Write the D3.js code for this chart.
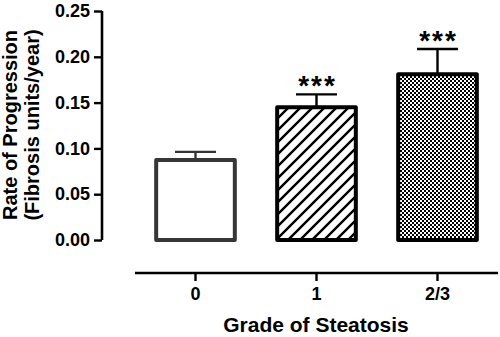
<!DOCTYPE html>
<html>
<head>
<meta charset="utf-8">
<script src="https://cdn.jsdelivr.net/npm/d3@7"></script>
<style>
  html, body { margin: 0; padding: 0; background: #fff; }
  svg { display: block; font-family: "Liberation Sans", Arial, sans-serif; font-weight: bold; }
</style>
</head>
<body>
<svg id="chart" width="500" height="337"></svg>
<script>
// ---- data ----
const categories = ["0", "1", "2/3"];
const means = [0.0873, 0.145, 0.181];
const errorTops = [0.0962, 0.159, 0.2085];
const significance = ["", "***", "***"];
const yTicks = [0.00, 0.05, 0.10, 0.15, 0.20, 0.25];
const yTitleLines = ["Rate of Progression", "(Fibrosis units/year)"];
const xTitle = "Grade of Steatosis";

const svg = d3.select("#chart");
const defs = svg.append("defs");

// hatch pattern
const hatch = defs.append("pattern")
  .attr("id", "hatch").attr("patternUnits", "userSpaceOnUse")
  .attr("width", 12).attr("height", 12);
hatch.append("rect").attr("width", 12).attr("height", 12).attr("fill", "#fff");
hatch.append("path")
  .attr("d", "M-3,3 L3,-3 M0,12 L12,0 M9,15 L15,9")
  .attr("stroke", "#000").attr("stroke-width", 2.4);

// checker pattern
const checker = defs.append("pattern")
  .attr("id", "checker").attr("patternUnits", "userSpaceOnUse")
  .attr("width", 4).attr("height", 4);
checker.append("rect").attr("width", 4).attr("height", 4).attr("fill", "#000");
checker.append("rect").attr("x", 0).attr("y", 0).attr("width", 2).attr("height", 2).attr("fill", "#fff");
checker.append("rect").attr("x", 2).attr("y", 2).attr("width", 2).attr("height", 2).attr("fill", "#fff");

const fills = ["#fff", "url(#hatch)", "url(#checker)"];
const strokes = ["#363636", "#000", "#000"];

const x = d3.scaleBand().domain(categories).range([135, 498])
  .paddingInner(0.35).paddingOuter(0.175);
const y = d3.scaleLinear().domain([0, 0.25]).range([240, 11]);

// y axis
const yAxis = svg.append("g").attr("transform", "translate(102,0)")
  .call(d3.axisLeft(y).tickValues(yTicks).tickFormat(d3.format(".2f")).tickSize(8).tickPadding(4));
yAxis.select(".domain").attr("stroke", "#000").attr("stroke-width", 2.6)
  .attr("d", `M0,${y(0.25)}V${y(0)}`);
yAxis.selectAll(".tick line").attr("stroke", "#000").attr("stroke-width", 2.4);
yAxis.selectAll(".tick text").attr("font-size", 18).attr("font-weight", "bold")
  .attr("fill", "#000").attr("font-family", "Liberation Sans, Arial, sans-serif");

// x axis
const xAxis = svg.append("g").attr("transform", "translate(0,273)")
  .call(d3.axisBottom(x).tickSize(8).tickPadding(6));
xAxis.select(".domain").attr("stroke", "#000").attr("stroke-width", 2.4)
  .attr("d", "M135,0H498");
xAxis.selectAll(".tick line").attr("stroke", "#000").attr("stroke-width", 2.4);
xAxis.selectAll(".tick text").attr("font-size", 18).attr("font-weight", "bold")
  .attr("fill", "#000").attr("font-family", "Liberation Sans, Arial, sans-serif");

// error bars
const capW = 41;
const eb = svg.append("g");
categories.forEach((c, i) => {
  const cx = x(c) + x.bandwidth() / 2;
  eb.append("line").attr("x1", cx).attr("x2", cx)
    .attr("y1", y(means[i])).attr("y2", y(errorTops[i]))
    .attr("stroke", strokes[i]).attr("stroke-width", 2.4);
  eb.append("line").attr("x1", cx - capW / 2).attr("x2", cx + capW / 2)
    .attr("y1", y(errorTops[i])).attr("y2", y(errorTops[i]))
    .attr("stroke", strokes[i]).attr("stroke-width", 2.4);
});

// bars
svg.append("g").selectAll("rect").data(categories).join("rect")
  .attr("x", d => x(d))
  .attr("y", (d, i) => y(means[i]))
  .attr("width", x.bandwidth())
  .attr("height", (d, i) => y(0) - y(means[i]))
  .attr("fill", (d, i) => fills[i])
  .attr("stroke", (d, i) => strokes[i])
  .attr("stroke-width", 4)
  .attr("stroke-linejoin", "round");

// significance stars
svg.append("g").selectAll("text").data(categories).join("text")
  .attr("x", d => x(d) + x.bandwidth() / 2 + 1)
  .attr("y", (d, i) => y(errorTops[i]) + 0.5)
  .attr("text-anchor", "middle")
  .attr("font-size", 28)
  .attr("letter-spacing", 2)
  .attr("fill", "#000")
  .text((d, i) => significance[i]);

// y title
const yt = svg.append("text")
  .attr("transform", "translate(0,125) rotate(-90)")
  .attr("text-anchor", "middle")
  .attr("font-size", 20)
  .attr("fill", "#000");
yTitleLines.forEach((t, i) => {
  yt.append("tspan").attr("x", 0).attr("y", 17 + i * 21.5).text(t);
});

// x title
svg.append("text")
  .attr("x", 316).attr("y", 332)
  .attr("text-anchor", "middle")
  .attr("font-size", 21)
  .attr("fill", "#000")
  .text(xTitle);
</script>
</body>
</html>
